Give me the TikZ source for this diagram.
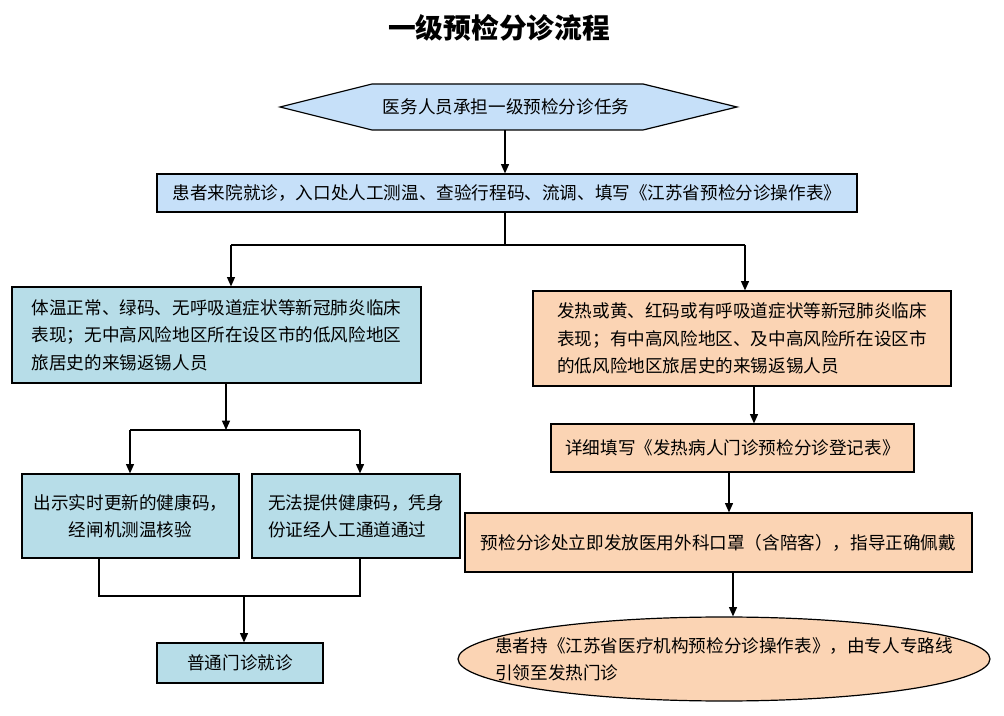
\documentclass[tikz,border=0pt]{standalone}
\usepackage{fontspec}
\newfontfamily\cjk{Noto Sans CJK SC}
\usetikzlibrary{arrows.meta,shapes.geometric}
\definecolor{skyblue}{RGB}{198,224,249}
\definecolor{paleteal}{RGB}{183,221,232}
\definecolor{peach}{RGB}{251,212,180}

\begin{document}
\begin{tikzpicture}[
  x=0.75pt, y=-0.75pt,
  every node/.style={font=\cjk\fontsize{13.2}{20.5}\selectfont},
  box/.style={draw, line width=0.9pt, inner sep=0pt, align=center},
  bluebox/.style={box, fill=skyblue},
  tealbox/.style={box, fill=paleteal},
  peachbox/.style={box, fill=peach},
  flow/.style={line width=0.9pt, -{Triangle[width=6pt,length=7pt]}},
  link/.style={line width=0.9pt}
]
  \useasboundingbox (0,0) rectangle (1004,716);

  \node[font=\cjk\bfseries\fontsize{20.8}{24}\selectfont] (title) at (499,28) {一级预检分诊流程};

  % start
  \draw[line width=0.9pt, fill=skyblue] (280,107) -- (372,84) -- (643,84) -- (737,107) -- (643,130) -- (372,130) -- cycle;
  \node[minimum width=342.75pt, minimum height=34.5pt, inner sep=0pt] (start) at (506,107) {医务人员承担一级预检分诊任务};

  \node[bluebox, minimum width=525pt, minimum height=28.5pt] (arrive) at (507,193)
    {患者来院就诊，入口处人工测温、查验行程码、流调、填写《江苏省预检分诊操作表》};

  % left branch
  \node[tealbox, align=left, minimum width=306.75pt, minimum height=72pt] (normal) at (216.5,335)
    {体温正常、绿码、无呼吸道症状等新冠肺炎临床\\表现；无中高风险地区所在设区市的低风险地区\\旅居史的来锡返锡人员};
  \node[tealbox, minimum width=162.75pt, minimum height=63pt] (showcode) at (130.5,516)
    {出示实时更新的健康码，\\经闸机测温核验};
  \node[tealbox, align=left, minimum width=156pt, minimum height=63pt] (nocode) at (356,516)
    {无法提供健康码，凭身\\份证经人工通道通过};
  \node[tealbox, minimum width=124.5pt, minimum height=30pt] (outpatient) at (240,663) {普通门诊就诊};

  % right branch
  \node[peachbox, align=left, minimum width=313.5pt, minimum height=71.25pt] (fever) at (742,338.5)
    {发热或黄、红码或有呼吸道症状等新冠肺炎临床\\表现；有中高风险地区、及中高风险所在设区市\\的低风险地区旅居史的来锡返锡人员};
  \node[peachbox, minimum width=272.25pt, minimum height=36pt] (register) at (732.5,448)
    {详细填写《发热病人门诊预检分诊登记表》};
  \node[peachbox, minimum width=380.25pt, minimum height=44.25pt] (mask) at (718.5,542.5)
    {预检分诊处立即发放医用外科口罩（含陪客），指导正确佩戴};
  \node[ellipse, draw, line width=0.9pt, fill=peach, minimum width=399pt, minimum height=63pt] (guide) at (724,659) {};
  \node[align=left] (guidetext) at (guide) {患者持《江苏省医疗机构预检分诊操作表》，由专人专路线\\引领至发热门诊};

  % connectors
  \coordinate (split) at (505,245);
  \coordinate (toleft) at (231,245);
  \coordinate (toright) at (745,245);
  \draw[flow] (start.south -| split) -- (split |- arrive.north);
  \draw[link] (split |- arrive.south) -- (split);
  \draw[link] (toleft) -- (toright);
  \draw[flow] (toleft) -- (toleft |- normal.north);
  \draw[flow] (toright) -- (toright |- fever.north);

  \coordinate (fork) at (226,430);
  \coordinate (forkl) at (130,430);
  \coordinate (forkr) at (360,430);
  \draw[flow] (fork |- normal.south) -- (fork);
  \draw[link] (forkl) -- (forkr);
  \draw[flow] (forkl) -- (forkl |- showcode.north);
  \draw[flow] (forkr) -- (forkr |- nocode.north);

  \coordinate (joinl) at (99,596);
  \coordinate (joinr) at (360,596);
  \coordinate (join) at (244,596);
  \draw[link] (joinl |- showcode.south) -- (joinl) -- (joinr) -- (joinr |- nocode.south);
  \draw[flow] (join) -- (join |- outpatient.north);

  \coordinate (r1) at (754,0);
  \coordinate (r2) at (729,0);
  \coordinate (r3) at (733,0);
  \draw[flow] (r1 |- fever.south) -- (r1 |- register.north);
  \draw[flow] (r2 |- register.south) -- (r2 |- mask.north);
  \draw[flow] (r3 |- mask.south) -- (r3 |- guide.north);
\end{tikzpicture}
\end{document}
